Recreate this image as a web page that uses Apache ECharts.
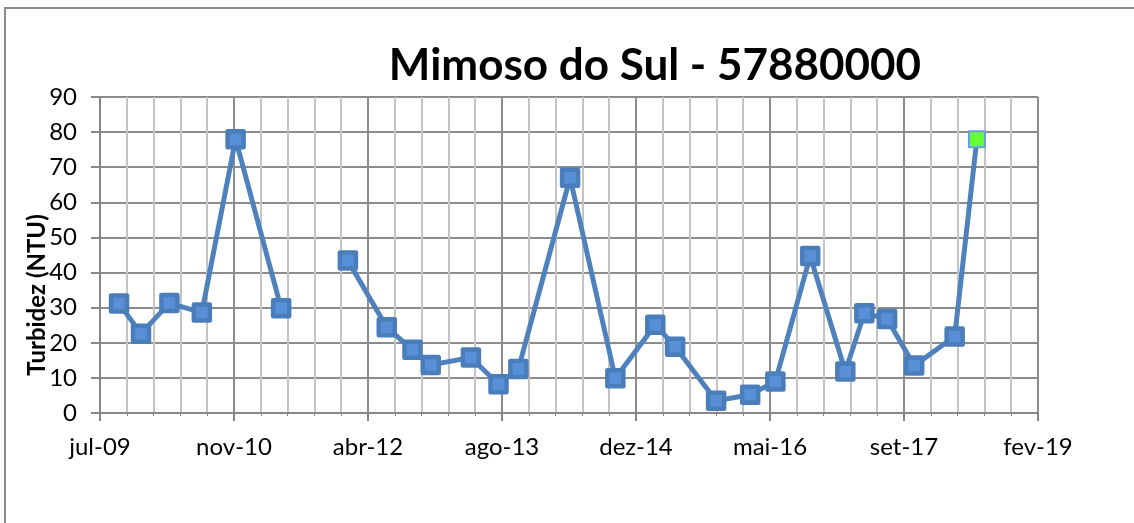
<!DOCTYPE html>
<html>
<head>
<meta charset="utf-8">
<script src="https://cdn.jsdelivr.net/npm/echarts@6.0.0/dist/echarts.min.js"></script>
<style>
  html, body { margin: 0; padding: 0; background: #fff; }
  #c1 { width: 1134px; height: 523px; }
</style>
</head>
<body>
<div id="c1"></div>
<script>
// datas das coletas e turbidez (NTU); null = sem dado (quebra a linha)
var datas = ['2009-09-15', '2009-12-06', '2010-03-22', '2010-07-21', '2010-11-24', '2011-05-13',
    '2011-09-15', '2012-01-17', '2012-06-10', '2012-09-14', '2012-11-21', '2013-04-20',
    '2013-08-01', '2013-10-14', '2014-04-25', '2014-10-11', '2015-03-09', '2015-05-22',
    '2015-10-22', '2016-02-26', '2016-05-30', '2016-10-07', '2017-02-15', '2017-04-27',
    '2017-07-21', '2017-10-30', '2018-03-30', '2018-06-21'];
var turbidez = [31.2, 22.6, 31.3, 28.6, 78.0, 29.8,
    null, 43.4, 24.4, 18.0, 13.7, 15.8,
    8.2, 12.5, 67.0, 9.9, 25.1, 18.9,
    3.5, 5.2, 9.0, 44.7, 11.8, 28.4,
    26.8, 13.5, 21.8, 78.0];
var meses = ['jan', 'fev', 'mar', 'abr', 'mai', 'jun', 'jul', 'ago', 'set', 'out', 'nov', 'dez'];
// eixo x em dias (serial do Excel): jul-09 .. fev-19, passo 500 dias
var xMin = 40000, xMax = 43500, xPasso = 500;

function serial(s) {
    var p = s.split('-');
    return Date.UTC(+p[0], +p[1] - 1, +p[2]) / 86400000 + 25569;
}
function rotulo(v) {
    var d = new Date((v - 25569) * 86400000);
    return meses[d.getUTCMonth()] + '-' + String(d.getUTCFullYear()).slice(2);
}

var ultimo = turbidez.length - 1;
var pontos = datas.map(function (d, i) {
    var item = {value: [serial(d), turbidez[i] === null ? '-' : turbidez[i]]};
    if (i === ultimo) {
        item.symbolSize = 16;
        item.itemStyle = {color: '#66ff33', borderColor: '#6a9ee0', borderWidth: 2};
    }
    return item;
});

var fonte = 'Lato, "Open Sans", sans-serif';
var ec = echarts.init(document.getElementById('c1'), null, {renderer: 'canvas'});
var opcao = {
    backgroundColor: '#fff',
    animation: false,
    title: {
        text: 'Mimoso do Sul - 57880000',
        left: 650,
        top: 39,
        textAlign: 'center',
        textStyle: {fontFamily: fonte, fontWeight: 'bold', fontSize: 44, color: '#000'}
    },
    grid: {left: 100, top: 97, width: 938, height: 316, outerBoundsMode: 'none'},
    graphic: [
        {
            type: 'rect',
            shape: {x: 5, y: 8, width: 1300, height: 700},
            style: {fill: null, stroke: '#8a8a8a', lineWidth: 2},
            silent: true
        },
        {
            type: 'text',
            x: 37, y: 295,
            rotation: Math.PI / 2,
            style: {
                text: 'Turbidez (NTU)', fontFamily: fonte, fontWeight: 'bold', fontSize: 24,
                fill: '#000', align: 'center', verticalAlign: 'middle'
            }
        }
    ],
    xAxis: {
        type: 'value',
        min: xMin,
        max: xMax,
        interval: xPasso,
        axisLine: {show: true, lineStyle: {color: '#868686', width: 2}},
        axisTick: {show: true, length: 8, lineStyle: {color: '#868686', width: 2}},
        minorTick: {show: true, splitNumber: 5, length: 3, lineStyle: {color: '#868686', width: 1}},
        splitLine: {show: true, lineStyle: {color: '#8c8c8c', width: 2}},
        minorSplitLine: {show: true, lineStyle: {color: '#c4c4c4', width: 2}},
        axisLabel: {
            formatter: rotulo, margin: 22, color: '#000',
            fontFamily: fonte, fontSize: 24
        }
    },
    yAxis: {
        type: 'value',
        min: 0,
        max: 90,
        interval: 10,
        axisLine: {show: true, lineStyle: {color: '#868686', width: 2}},
        axisTick: {show: true, length: 9, lineStyle: {color: '#868686', width: 2}},
        splitLine: {show: true, lineStyle: {color: '#8c8c8c', width: 2}},
        axisLabel: {margin: 23, color: '#000', fontFamily: fonte, fontSize: 24}
    },
    series: [{
        name: 'Turbidez',
        type: 'line',
        data: pontos,
        connectNulls: false,
        symbol: 'rect',
        symbolSize: 16,
        showAllSymbol: true,
        lineStyle: {color: '#4f81bd', width: 5},
        itemStyle: {color: '#5890d8', borderColor: '#4a7ebb', borderWidth: 4.5, borderJoin: 'round'},
        emphasis: {disabled: true}
    }]
};
ec.setOption(opcao);
</script>
</body>
</html>
